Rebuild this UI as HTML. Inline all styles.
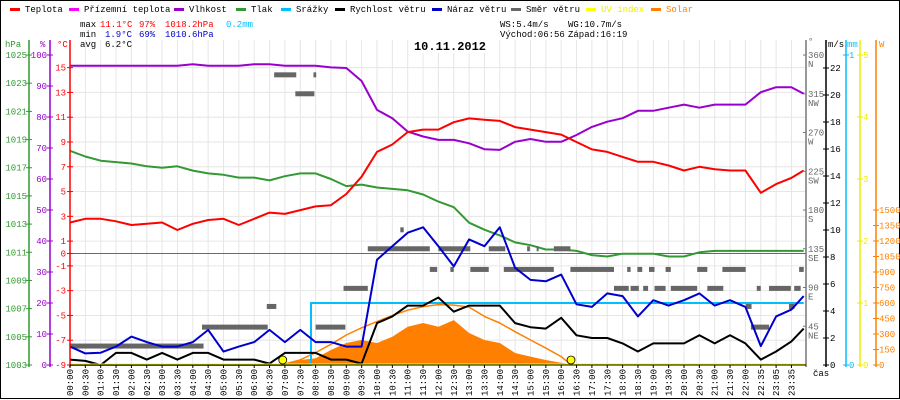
<!DOCTYPE html>
<html><head><meta charset="utf-8"><style>
html,body{margin:0;padding:0;background:#fff}
svg{display:block}
text{font-family:"Liberation Mono",monospace;font-size:9px}
</style></head><body>
<svg id="c" width="900" height="400" viewBox="0 0 900 400" xmlns="http://www.w3.org/2000/svg">
<rect x="0.5" y="0.5" width="899" height="398" fill="#fff" stroke="#000"/>
<g id="legend"></g>
<g id="grid"></g>
<g id="stats">
<text x="80" y="27" fill="#000">max</text>
<text x="100" y="27" fill="#f00">11.1°C</text>
<text x="139" y="27" fill="#f00">97%</text>
<text x="165" y="27" fill="#f00">1018.2hPa</text>
<text x="226" y="27" fill="#00bfff">0.2mm</text>
<text x="80" y="37" fill="#000">min</text>
<text x="105" y="37" fill="#00c">1.9°C</text>
<text x="139" y="37" fill="#00c">69%</text>
<text x="165" y="37" fill="#00c">1010.6hPa</text>
<text x="80" y="47" fill="#000">avg</text>
<text x="105" y="47" fill="#000">6.2°C</text>
<text x="500" y="27" fill="#000">WS:5.4m/s</text>
<text x="568" y="27" fill="#000">WG:10.7m/s</text>
<text x="500" y="37" fill="#000">Východ:06:56</text>
<text x="568" y="37" fill="#000">Západ:16:19</text>
<rect x="412" y="39" width="76" height="14" fill="#fff"/>
<text x="450" y="50" text-anchor="middle" style="font-size:12px;font-weight:bold" fill="#000">10.11.2012</text>
</g>
<g id="plot"></g>
<g id="axes"></g>
</svg>
<script>
const hours=[0,0.5,1,1.5,2,2.5,3,3.5,4,4.5,5,5.5,6,6.5,7,7.5,8,8.5,9,9.5,10,10.5,11,11.5,12,12.5,13,13.5,14,14.5,15,15.5,16,16.5,17,17.5,18,18.5,19,19.5,20,20.5,21,21.5,22,22.5,23,23.5,23.9];
const temperature=[2.5,2.8,2.8,2.6,2.3,2.4,2.5,1.9,2.4,2.7,2.8,2.3,2.8,3.3,3.2,3.5,3.8,3.9,4.8,6.2,8.2,8.8,9.8,10.0,10.0,10.6,10.9,10.8,10.7,10.2,10.0,9.8,9.6,9.0,8.4,8.2,7.8,7.4,7.4,7.1,6.7,7.0,6.8,6.7,6.7,4.9,5.6,6.1,6.7];
const humidity=[96.5,96.5,96.5,96.5,96.5,96.5,96.5,96.5,97,96.5,96.5,96.5,97,97,96.5,96.5,96.5,96,95.8,91.6,82.3,79.6,75.3,73.7,72.6,72.6,71.5,69.6,69.4,72,72.9,72,72,74.2,76.8,78.5,79.6,82,82,83,84,83,84,84,84,88,89.6,89.6,87.5];
const pressure=[1018.2,1017.8,1017.5,1017.4,1017.3,1017.1,1017.0,1017.1,1016.8,1016.6,1016.5,1016.3,1016.3,1016.1,1016.4,1016.6,1016.6,1016.2,1015.7,1015.8,1015.6,1015.5,1015.4,1015.1,1014.6,1014.2,1013.1,1012.6,1012.2,1011.7,1011.5,1011.2,1011.2,1011.1,1010.8,1010.7,1010.9,1010.9,1010.9,1010.7,1010.7,1011.0,1011.1,1011.1,1011.1,1011.1,1011.1,1011.1,1011.1];
const windSpeed=[0.4,0.3,0,0.9,0.9,0.4,0.9,0.4,0.9,0.9,0.4,0.4,0.4,0.1,0.9,0.9,0.9,0.4,0.4,0.1,3.1,3.6,4.4,4.4,5.0,3.95,4.4,4.4,4.4,3.1,2.8,2.7,3.5,2.2,2.0,2.0,1.6,1.0,1.6,1.6,1.6,2.2,1.6,2.2,1.6,0.4,1.0,1.75,2.7];
const windGust=[1.36,0.86,0.91,1.36,2.1,1.7,1.36,1.36,1.7,2.6,0.99,1.36,1.7,2.6,1.7,2.6,1.7,1.7,1.36,1.36,7.8,8.8,9.8,10.2,8.8,7.3,9.3,8.8,10.2,7.2,6.3,6.2,6.7,4.5,4.3,5.3,5.1,3.6,4.8,4.4,4.8,5.3,4.4,4.8,4.3,1.4,3.6,4.1,5.1];
const solar=[0,0,0,0,0,0,0,0,0,0,0,0,0,0,5,48,65,145,213,242,213,274,371,406,371,435,310,242,213,116,81,48,22,0,0,0,0,0,0,0,0,0,0,0,0,0,0,0,0];
const solarMax=[0,0,0,0,0,0,0,0,0,0,0,0,0,0,10,50,120,200,290,360,420,480,530,565,585,580,560,470,406,322,242,164,81,0,0,0,0,0,0,0,0,0,0,0,0,0,0,0,0];
const rainHours=[0,7.85,7.85,23.9];
const rain=[0,0,0.2,0.2];
const dirStart=[0,4.3,6.41,6.65,7.34,7.93,8.0,8.91,9.7,10.76,11.72,12.0,13.64,14.89,15.2,15.76,12.39,13.04,14.13,16.3,18.15,18.48,18.86,19.4,20.43,21.25,23.75,17.72,18.26,18.67,19.04,19.57,20.76,22.37,22.77,23.59,22.01,23.42,22.18];
const dirEnd=[4.35,6.44,6.72,7.37,7.96,8.02,8.97,9.7,11.72,10.87,11.96,13.04,14.18,14.98,15.25,16.3,12.5,13.64,15.76,17.72,18.26,18.64,19.04,19.57,20.76,22.01,23.9,18.2,18.53,18.83,19.4,20.43,21.28,22.5,23.48,23.8,22.2,23.6,22.77];
const dirDeg=[22,44,68,337,315,337,44,89,135,157,111,135,135,135,135,135,111,111,111,111,111,111,111,111,111,111,111,89,89,89,89,89,89,89,89,89,68,68,44];
const sunTimes=[6.93,16.32];
const xLabels=["00:00","00:30","01:00","01:30","02:00","02:30","03:00","03:30","04:00","04:30","05:00","05:30","06:00","06:30","07:00","07:30","08:00","08:30","09:00","09:30","10:00","10:30","11:00","11:30","12:00","12:30","13:00","13:30","14:00","14:30","15:00","15:30","16:00","16:30","17:00","17:30","18:00","18:30","19:00","19:30","20:00","20:30","21:00","21:30","22:00","22:35","23:05","23:35"];
const hpaTicks=[1025,1023,1021,1019,1017,1015,1013,1011,1009,1007,1005,1003];
const humTicks=[100,90,80,70,60,50,40,30,20,10,0];
const tempTicks=[15,13,11,9,7,5,3,1,0,-1,-3,-5,-7,-9];
const dirTicks=[360,315,270,225,180,135,90,45];
const dirNames=["N","NW","W","SW","S","SE","E","NE"];
const msTicks=[22,20,18,16,14,12,10,8,6,4,2,0];
const mmTicks=[1,0];
const uvTicks=[5,4,3,2,1,0];
const wTicks=[1500,1350,1200,1050,900,750,600,450,300,150,0];

const NS="http://www.w3.org/2000/svg";
const X0=70,X1=806,Y0=40,YB=365;
const x=t=>X0+t*30.7;
const yT=v=>253.5-v*12.39;
const yH=v=>365-v*3.1;
const yP=v=>365-(v-1003)*14.09;
const yW=v=>365-v*13.5;
const yD=v=>365-v*0.861;
const yM=v=>365-v*310;
const yU=v=>365-v*62;
const yS=v=>365-v*0.10333;
function mk(tag,attrs,parent,txt){const e=document.createElementNS(NS,tag);for(const k in attrs)e.setAttribute(k,attrs[k]);if(txt!==undefined)e.textContent=txt;parent.appendChild(e);return e;}
const G=document.getElementById('grid'),P=document.getElementById('plot'),A=document.getElementById('axes'),L=document.getElementById('legend');

const legNames=["Teplota","Přízemní teplota","Vlhkost","Tlak","Srážky","Rychlost větru","Náraz větru","Směr větru","UV index","Solar"];
const legColors=["#f00","#f0f","#90c","#393","#00bfff","#000","#00c","#666","#ff0","#ff8000"];
const legX=[10,69,174,236,281,335,432,511,586,651];
for(let i=0;i<legNames.length;i++){
  const g=mk('g',{},L);
  
  
  mk('rect',{x:legX[i],y:8,width:10,height:3,fill:legColors[i]},g);
  mk('text',{x:legX[i]+15,y:12,fill:(i==8?'#ee0':(i==9?'#ff8000':'#000'))},g,legNames[i]);
}

for(let i=0;i<=48;i++){const xx=X0+i*15.35;if(xx>X1)break;
  const l=mk('line',{x1:xx,y1:Y0,x2:xx,y2:YB,stroke:'#e6e6e6','stroke-width':1},G);
  
  }
for(const v of tempTicks){if(v===0)continue;const yy=yT(v);
  const l=mk('line',{x1:X0,y1:yy,x2:X1,y2:yy,stroke:'#e6e6e6','stroke-width':1},G);
  
  }

function poly(xs,ys,color,w,name){const pts=xs.map((t,i)=>x(t).toFixed(1)+','+ys[i].toFixed(1)).join(' ');
  const e=mk('polyline',{points:pts,fill:'none',stroke:color,'stroke-width':w,'stroke-linejoin':'round'},P);
  
  return e;}

{let pts=[];hours.forEach((t,i)=>pts.push(x(t).toFixed(1)+','+yS(solar[i]).toFixed(1)));
 pts.push(x(hours[hours.length-1])+','+YB);pts.push(x(0)+','+YB);
 const e=mk('polygon',{points:pts.join(' '),fill:'#ff8000'},P);
 
 }
{const xs=[sunTimes[0]],ys=[yS(0)];hours.forEach((t,i)=>{if(solarMax[i]>0){xs.push(t);ys.push(yS(solarMax[i]));}});xs.push(sunTimes[1]);ys.push(yS(0));
 poly(xs,ys,'#ff8000',1.5,'solar-max-line');}
{const e=mk('line',{x1:X0,y1:yT(0),x2:X1,y2:yT(0),stroke:'#f0f','stroke-width':1},P);
 
 }
poly(hours,pressure.map(yP),'#393',2,'pressure-line');
poly(hours,humidity.map(yH),'#90c',2,'humidity-line');
poly(hours,temperature.map(yT),'#f00',2,'temperature-line');
for(let i=0;i<dirDeg.length;i++){const e=mk('rect',{x:x(dirStart[i]),y:yD(dirDeg[i])-2.5,width:Math.max(2,x(dirEnd[i])-x(dirStart[i])),height:5,fill:'#666'},P);
 
 }
poly(rainHours,rain.map(yM),'#00bfff',2,'rain-line');
poly(hours,windSpeed.map(yW),'#000',2,'wind-speed-line');
poly(hours,windGust.map(yW),'#00c',2,'wind-gust-line');
{const e=mk('line',{x1:X0,y1:YB-0.5,x2:X1,y2:YB-0.5,stroke:'#ff0','stroke-width':2},P);
 
 }
for(const s of sunTimes){const e=mk('circle',{cx:x(s),cy:360,r:4,fill:'#ff0',stroke:'#000','stroke-width':0.8},P);
 
 }

function axisLine(xx,color,name){const e=mk('line',{x1:xx,y1:Y0,x2:xx,y2:YB+2,stroke:color,'stroke-width':1.5},A);
 
 }
function ticks(xx,vals,fy,color,side,dx,name,fmt){vals.forEach((v,i)=>{const yy=fy(v);
  mk('line',{x1:xx-3,y1:yy,x2:xx+3,y2:yy,stroke:color,'stroke-width':1},A);
  const t=mk('text',{x:side<0?xx-dx:xx+dx,y:yy+3,fill:color,'text-anchor':side<0?'end':'start'},A,fmt?fmt(v,i):String(v));
  
  });}
axisLine(29,'#393','pressure-axis');axisLine(50,'#90c','humidity-axis');axisLine(70,'#f00','temperature-axis');
ticks(29,hpaTicks,yP,'#393',-1,2,'pressure-tick-label');
ticks(50,humTicks,yH,'#90c',-1,3,'humidity-tick-label');
ticks(70,tempTicks,yT,'#f00',-1,4,'temperature-tick-label',v=>v<0?'-'+Math.abs(v):String(v));
mk('text',{x:5,y:47,fill:'#393'},A,'hPa');mk('text',{x:40,y:47,fill:'#90c'},A,'%');mk('text',{x:57,y:47,fill:'#f00'},A,'°C');
axisLine(806,'#777','direction-axis');
dirTicks.forEach((v,i)=>{const yy=yD(v);mk('line',{x1:803,y1:yy,x2:806,y2:yy,stroke:'#777'},A);
 const t=mk('text',{x:808,y:yy+3,fill:'#666'},A,String(v));
 
 
 mk('text',{x:808,y:yy+12,fill:'#666'},A,dirNames[i]);});
mk('text',{x:808,y:44,fill:'#666'},A,'°');
axisLine(826,'#000','wind-speed-axis');ticks(826,msTicks,yW,'#000',1,4,'wind-speed-tick-label');
mk('text',{x:828,y:47,fill:'#000'},A,'m/s');
axisLine(846,'#00bfff','rain-axis');ticks(846,mmTicks,yM,'#00bfff',1,3,'rain-tick-label');
mk('text',{x:847,y:47,fill:'#00bfff'},A,'mm');
axisLine(860,'#ee0','uv-axis');ticks(860,uvTicks,yU,'#ee0',1,3,'uv-tick-label');
axisLine(876,'#ff8000','solar-axis');ticks(876,wTicks,yS,'#ff8000',1,3,'solar-tick-label');
mk('text',{x:879,y:47,fill:'#ff8000'},A,'W');
{const e=mk('line',{x1:X0,y1:YB,x2:X1,y2:YB,stroke:'#000','stroke-width':1},A);
 
 }
xLabels.forEach((lab,i)=>{const xx=X0+i*15.35;
 mk('line',{x1:xx,y1:YB,x2:xx,y2:YB+3,stroke:'#000'},A);
 const t=mk('text',{x:0,y:0,fill:'#000','text-anchor':'end',transform:'translate('+(xx+3)+',369) rotate(-90)'},A,lab);
 
 });
{const t=mk('text',{x:813,y:376,fill:'#000'},A,'čas');
 
 }
</script>
</body></html>
